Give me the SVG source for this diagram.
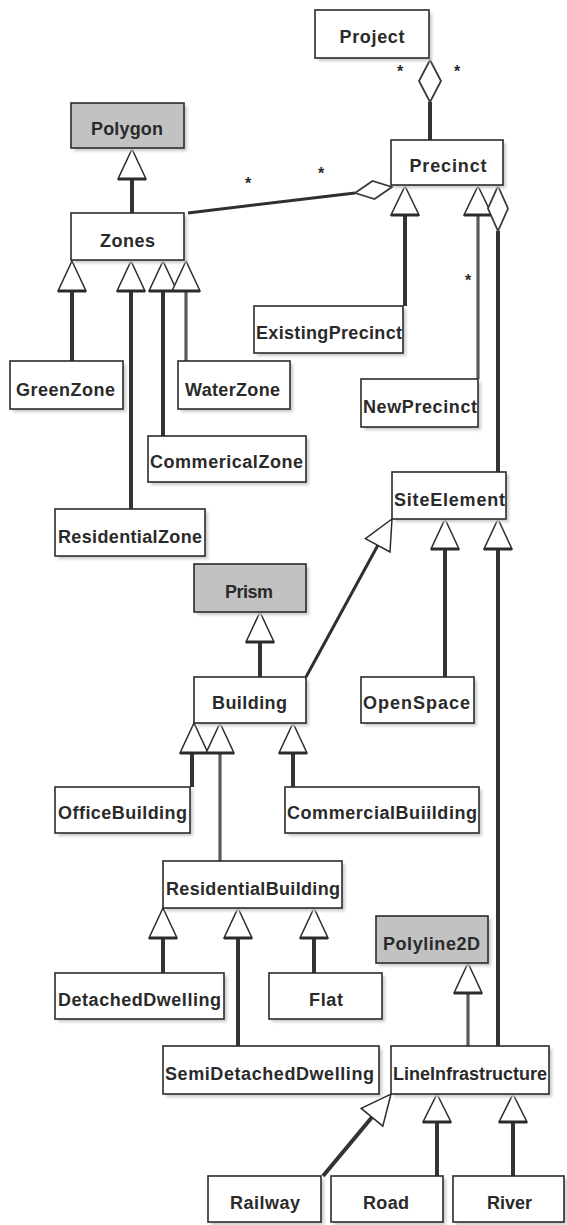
<svg xmlns="http://www.w3.org/2000/svg" width="567" height="1225" viewBox="0 0 567 1225">
  <defs>
    <filter id="soft" x="-10%" y="-10%" width="130%" height="140%">
      <feGaussianBlur stdDeviation="1.6"/>
    </filter>
    <style>
      .sh { fill: #cacaca; filter: url(#soft); }
      .box { fill: #ffffff; stroke: #2b2b2b; stroke-width: 1.6; }
      .gray { fill: #c2c2c2; stroke: #2b2b2b; stroke-width: 1.6; }
      .t { font-family: "Liberation Sans", Arial, sans-serif; font-size: 18px; font-weight: bold; fill: #2a2a2a; text-anchor: middle; }
      .m { font-family: "Liberation Sans", Arial, sans-serif; font-size: 16px; font-weight: bold; fill: #2a2a2a; text-anchor: middle; }
      .ln { stroke: #333333; stroke-width: 4; fill: none; }
      .lg { stroke: #5a5a5a; stroke-width: 3.2; fill: none; }
      .la { stroke: #2f2f2f; stroke-width: 3; fill: none; }
      .tri { fill: #ffffff; stroke: #2b2b2b; stroke-width: 1.5; stroke-linejoin: miter; }
      .base { stroke: #2b2b2b; stroke-width: 3; }
      .dia { fill: #ffffff; stroke: #3a3a3a; stroke-width: 1.8; }
    </style>
  </defs>
  <rect width="567" height="1225" fill="#ffffff"/>

  <!-- connectors: associations, aggregations and generalizations -->
  <g id="connectors">
    <!-- Project <>- Precinct -->
    <line class="ln" x1="430" y1="102" x2="430" y2="140"/>
    <polygon class="dia" points="430,60 441,81 430,102 419,81"/>

    <!-- Zones - Precinct aggregation -->
    <line class="la" x1="188" y1="213" x2="355" y2="193"/>
    <polygon class="dia" points="392,187 374.5,199 355,193 372.5,181"/>

    <!-- Precinct children -->
    <line class="ln" x1="405" y1="215" x2="405" y2="306"/>
    <polygon class="tri" points="405,186 419,215 391,215"/>
    <line class="base" x1="391" y1="215" x2="419" y2="215"/>

    <line class="lg" x1="478" y1="215" x2="478" y2="379"/>
    <polygon class="tri" points="478,186 492,215 464,215"/>
    <line class="base" x1="464" y1="215" x2="492" y2="215"/>

    <line class="ln" x1="498" y1="231" x2="498" y2="472"/>
    <polygon class="dia" points="498,186 508,208.5 498,231 488,208.5"/>

    <!-- Polygon <|- Zones -->
    <line class="ln" x1="132" y1="179" x2="132" y2="213"/>
    <polygon class="tri" points="132,149 146,179 118,179"/>
    <line class="base" x1="118" y1="179" x2="146" y2="179"/>

    <!-- Zones <|- zone kinds -->
    <line class="ln" x1="72" y1="291" x2="72" y2="361"/>
    <line class="ln" x1="131" y1="291" x2="131" y2="509"/>
    <line class="ln" x1="163" y1="291" x2="163" y2="436"/>
    <line class="lg" x1="186" y1="291" x2="186" y2="361"/>
    <polygon class="tri" points="72,261 86,291 58,291"/>
    <polygon class="tri" points="131,261 145,291 117,291"/>
    <polygon class="tri" points="163,261 177,291 149,291"/>
    <polygon class="tri" points="186,261 200,291 172,291"/>
    <line class="base" x1="58" y1="291" x2="86" y2="291"/>
    <line class="base" x1="117" y1="291" x2="145" y2="291"/>
    <line class="base" x1="149" y1="291" x2="200" y2="291"/>

    <!-- SiteElement children -->
    <line class="la" x1="306" y1="677" x2="378" y2="545"/>
    <polygon class="tri" points="392,519 390,552 365.4,538.6"/>
    <line class="ln" x1="445" y1="549" x2="445" y2="677"/>
    <polygon class="tri" points="445,519 459,549 431,549"/>
    <line class="base" x1="431" y1="549" x2="459" y2="549"/>
    <line class="ln" x1="498" y1="549" x2="498" y2="1046"/>
    <polygon class="tri" points="498,519 512,549 484,549"/>
    <line class="base" x1="484" y1="549" x2="512" y2="549"/>

    <!-- Prism <|- Building -->
    <line class="ln" x1="260" y1="642" x2="260" y2="677"/>
    <polygon class="tri" points="260,612 274,642 246,642"/>
    <line class="base" x1="246" y1="642" x2="274" y2="642"/>

    <!-- Building children -->
    <line class="ln" x1="192" y1="753" x2="192" y2="787"/>
    <line class="lg" x1="220" y1="753" x2="220" y2="861"/>
    <line class="ln" x1="293" y1="753" x2="293" y2="787"/>
    <polygon class="tri" points="194,723 208,753 180,753"/>
    <polygon class="tri" points="220,723 234,753 206,753"/>
    <polygon class="tri" points="293,723 307,753 279,753"/>
    <line class="base" x1="180" y1="753" x2="234" y2="753"/>
    <line class="base" x1="279" y1="753" x2="307" y2="753"/>

    <!-- ResidentialBuilding children -->
    <line class="ln" x1="163" y1="938" x2="163" y2="973"/>
    <line class="ln" x1="238" y1="938" x2="238" y2="1046"/>
    <line class="ln" x1="314" y1="938" x2="314" y2="973"/>
    <polygon class="tri" points="163,908 177,938 149,938"/>
    <polygon class="tri" points="238,908 252,938 224,938"/>
    <polygon class="tri" points="314,908 328,938 300,938"/>
    <line class="base" x1="149" y1="938" x2="177" y2="938"/>
    <line class="base" x1="224" y1="938" x2="252" y2="938"/>
    <line class="base" x1="300" y1="938" x2="328" y2="938"/>

    <!-- Polyline2D <|- LineInfrastructure -->
    <line class="lg" x1="468" y1="993" x2="468" y2="1046"/>
    <polygon class="tri" points="468,963 482,993 454,993"/>
    <line class="base" x1="454" y1="993" x2="482" y2="993"/>

    <!-- LineInfrastructure children -->
    <line class="ln" x1="323" y1="1176" x2="373" y2="1116"/>
    <polygon class="tri" points="391,1094 382.8,1126.1 361.2,1108.3"/>
    <line class="ln" x1="437" y1="1122" x2="437" y2="1176"/>
    <polygon class="tri" points="437,1094 451,1122 423,1122"/>
    <line class="base" x1="423" y1="1122" x2="451" y2="1122"/>
    <line class="ln" x1="513" y1="1122" x2="513" y2="1176"/>
    <polygon class="tri" points="513,1094 527,1122 499,1122"/>
    <line class="base" x1="499" y1="1122" x2="527" y2="1122"/>

    <!-- multiplicities -->
    <text class="m" x="400" y="77">*</text>
    <text class="m" x="457" y="77">*</text>
    <text class="m" x="248" y="189">*</text>
    <text class="m" x="321" y="179">*</text>
    <text class="m" x="468" y="286">*</text>
    <text class="m" x="469" y="403">*</text>
  </g>

  <!-- classes -->
  <g id="Project"><rect class="sh" x="318" y="13" width="114" height="48"/><rect class="box" x="315" y="10" width="114" height="48"/><text class="t" x="372" y="43" textLength="65">Project</text></g>
  <g id="Polygon"><rect class="sh" x="74" y="106" width="113" height="45"/><rect class="gray" x="71" y="103" width="113" height="45"/><text class="t" x="127" y="135" textLength="72">Polygon</text></g>
  <g id="Precinct"><rect class="sh" x="394" y="143" width="112" height="45"/><rect class="box" x="391" y="140" width="112" height="45"/><text class="t" x="448" y="172" textLength="77">Precinct</text></g>
  <g id="Zones"><rect class="sh" x="74" y="216" width="113" height="47"/><rect class="box" x="71" y="213" width="113" height="47"/><text class="t" x="127.5" y="247" textLength="55">Zones</text></g>
  <g id="ExistingPrecinct"><rect class="sh" x="257" y="309" width="149" height="47"/><rect class="box" x="254" y="306" width="149" height="47"/><text class="t" x="329" y="339" textLength="146">ExistingPrecinct</text></g>
  <g id="GreenZone"><rect class="sh" x="13" y="364" width="113" height="48"/><rect class="box" x="10" y="361" width="113" height="48"/><text class="t" x="65.5" y="396" textLength="99">GreenZone</text></g>
  <g id="WaterZone"><rect class="sh" x="181" y="364" width="112" height="48"/><rect class="box" x="178" y="361" width="112" height="48"/><text class="t" x="232.5" y="396" textLength="95">WaterZone</text></g>
  <g id="NewPrecinct"><rect class="sh" x="364" y="382" width="117" height="48"/><rect class="box" x="361" y="379" width="117" height="48"/><text class="t" x="420" y="413" textLength="114">NewPrecinct</text></g>
  <g id="CommericalZone"><rect class="sh" x="151" y="439" width="158" height="46"/><rect class="box" x="148" y="436" width="158" height="46"/><text class="t" x="226.5" y="468" textLength="153">CommericalZone</text></g>
  <g id="SiteElement"><rect class="sh" x="395" y="475" width="114" height="47"/><rect class="box" x="392" y="472" width="114" height="47"/><text class="t" x="449.5" y="506" textLength="111">SiteElement</text></g>
  <g id="ResidentialZone"><rect class="sh" x="58" y="512" width="150" height="47"/><rect class="box" x="55" y="509" width="150" height="47"/><text class="t" x="130" y="543" textLength="144">ResidentialZone</text></g>
  <g id="Prism"><rect class="sh" x="197" y="567" width="112" height="48"/><rect class="gray" x="194" y="564" width="112" height="48"/><text class="t" x="249" y="598" textLength="48">Prism</text></g>
  <g id="Building"><rect class="sh" x="197" y="680" width="112" height="46"/><rect class="box" x="194" y="677" width="112" height="46"/><text class="t" x="249.5" y="709" textLength="75">Building</text></g>
  <g id="OpenSpace"><rect class="sh" x="364" y="680" width="113" height="46"/><rect class="box" x="361" y="677" width="113" height="46"/><text class="t" x="416.5" y="709" textLength="107">OpenSpace</text></g>
  <g id="OfficeBuilding"><rect class="sh" x="58" y="790" width="135" height="46"/><rect class="box" x="55" y="787" width="135" height="46"/><text class="t" x="122.5" y="819" textLength="129">OfficeBuilding</text></g>
  <g id="CommercialBuiilding"><rect class="sh" x="288" y="790" width="194" height="46"/><rect class="box" x="285" y="787" width="194" height="46"/><text class="t" x="382" y="819" textLength="190">CommercialBuiilding</text></g>
  <g id="ResidentialBuilding"><rect class="sh" x="166" y="864" width="179" height="47"/><rect class="box" x="163" y="861" width="179" height="47"/><text class="t" x="253" y="895" textLength="174">ResidentialBuilding</text></g>
  <g id="Polyline2D"><rect class="sh" x="379" y="919" width="112" height="47"/><rect class="gray" x="376" y="916" width="112" height="47"/><text class="t" x="431.5" y="950" textLength="97">Polyline2D</text></g>
  <g id="DetachedDwelling"><rect class="sh" x="58" y="976" width="169" height="46"/><rect class="box" x="55" y="973" width="169" height="46"/><text class="t" x="139.5" y="1006" textLength="163">DetachedDwelling</text></g>
  <g id="Flat"><rect class="sh" x="272" y="976" width="113" height="46"/><rect class="box" x="269" y="973" width="113" height="46"/><text class="t" x="326" y="1006" textLength="34">Flat</text></g>
  <g id="SemiDetachedDwelling"><rect class="sh" x="166" y="1049" width="216" height="48"/><rect class="box" x="163" y="1046" width="216" height="48"/><text class="t" x="269.5" y="1080" textLength="209">SemiDetachedDwelling</text></g>
  <g id="LineInfrastructure"><rect class="sh" x="394" y="1049" width="158" height="48"/><rect class="box" x="391" y="1046" width="158" height="48"/><text class="t" x="470" y="1080" textLength="154">LineInfrastructure</text></g>
  <g id="Railway"><rect class="sh" x="211" y="1179" width="113" height="46"/><rect class="box" x="208" y="1176" width="113" height="46"/><text class="t" x="265" y="1209" textLength="70">Railway</text></g>
  <g id="Road"><rect class="sh" x="334" y="1179" width="112" height="46"/><rect class="box" x="331" y="1176" width="112" height="46"/><text class="t" x="386" y="1209" textLength="46">Road</text></g>
  <g id="River"><rect class="sh" x="456" y="1179" width="111" height="46"/><rect class="box" x="453" y="1176" width="111" height="46"/><text class="t" x="509.5" y="1209" textLength="45">River</text></g>
</svg>
